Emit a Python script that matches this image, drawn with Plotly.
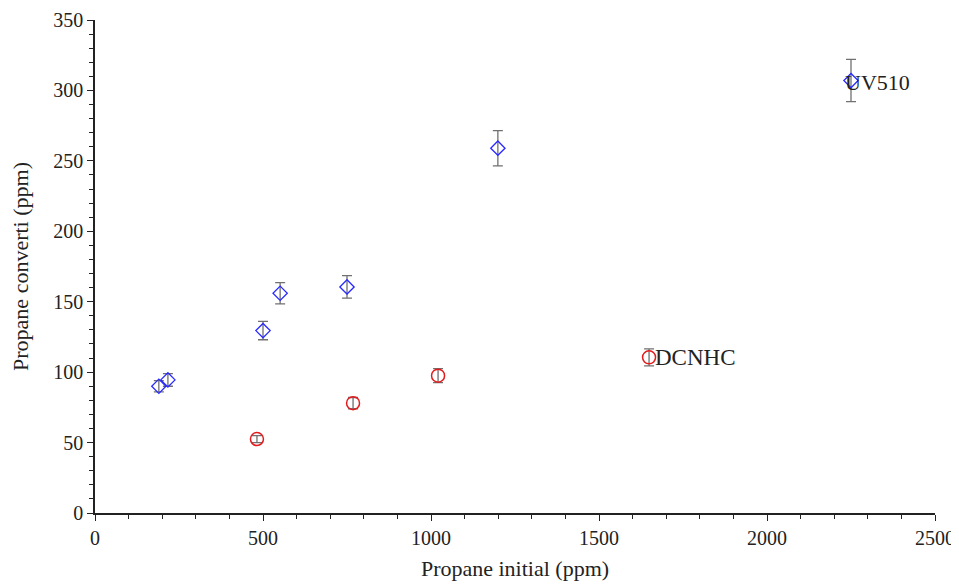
import plotly.graph_objects as go

uv_x = [190, 217, 500, 551, 750, 1199, 2250]
uv_y = [90, 94.5, 129.5, 156, 160.5, 259, 307]
uv_err = [4, 4.5, 6.5, 7.5, 8, 12.5, 15]

dc_x = [482, 768, 1021, 1649]
dc_y = [52.5, 78, 97.5, 110.5]
dc_err = [2.5, 4, 5, 6]

font_family = "Liberation Serif, Times New Roman, DejaVu Serif, serif"

fig = go.Figure()
fig.add_trace(go.Scatter(
    x=uv_x, y=uv_y, mode="markers", name="UV510",
    marker=dict(symbol="diamond-open", size=11, color="#2a2aff", line=dict(width=1.3)),
    error_y=dict(type="data", array=uv_err, visible=True, color="#707070", thickness=1.3, width=5),
))
fig.add_trace(go.Scatter(
    x=dc_x, y=dc_y, mode="markers", name="DCNHC",
    marker=dict(symbol="circle-open", size=13, color="#e41a1c", line=dict(width=1.5)),
    error_y=dict(type="data", array=dc_err, visible=True, color="#707070", thickness=1.3, width=5),
))

fig.add_annotation(x=uv_x[-1], y=uv_y[-1] - 1.5, text="UV510", showarrow=False,
                   xanchor="left", xshift=-8, font=dict(family=font_family, size=22, color="#222"))
fig.add_annotation(x=dc_x[-1], y=dc_y[-1], text="DCNHC", showarrow=False,
                   xanchor="left", xshift=4, font=dict(family=font_family, size=23, color="#222"))

axis_common = dict(
    showgrid=False, zeroline=False, showline=True, linecolor="#222", linewidth=1.5,
    ticks="outside", ticklen=6, tickwidth=1.2, tickcolor="#222",
    tickfont=dict(family=font_family, size=20, color="#222"),
    title_font=dict(family=font_family, size=22, color="#222"),
    automargin=False,
)

fig.update_xaxes(range=[0, 2500], dtick=500, title_text="Propane initial (ppm)",
                 minor=dict(dtick=100, ticks="outside", ticklen=4, tickcolor="#222"),
                 title_standoff=13, **axis_common)
fig.update_yaxes(range=[0, 350], dtick=50, title_text="Propane converti (ppm)",
                 minor=dict(dtick=10, ticks="outside", ticklen=4, tickcolor="#222"),
                 title_standoff=20, **axis_common)

# the page body adds an 8px offset, so the margins are reduced by that amount
fig.update_layout(
    width=959, height=576,
    margin=dict(l=87, r=32, t=12, b=71),
    plot_bgcolor="white", paper_bgcolor="white",
    showlegend=False,
    font=dict(family=font_family, size=20, color="#222"),
)

fig.write_html("out.html")
